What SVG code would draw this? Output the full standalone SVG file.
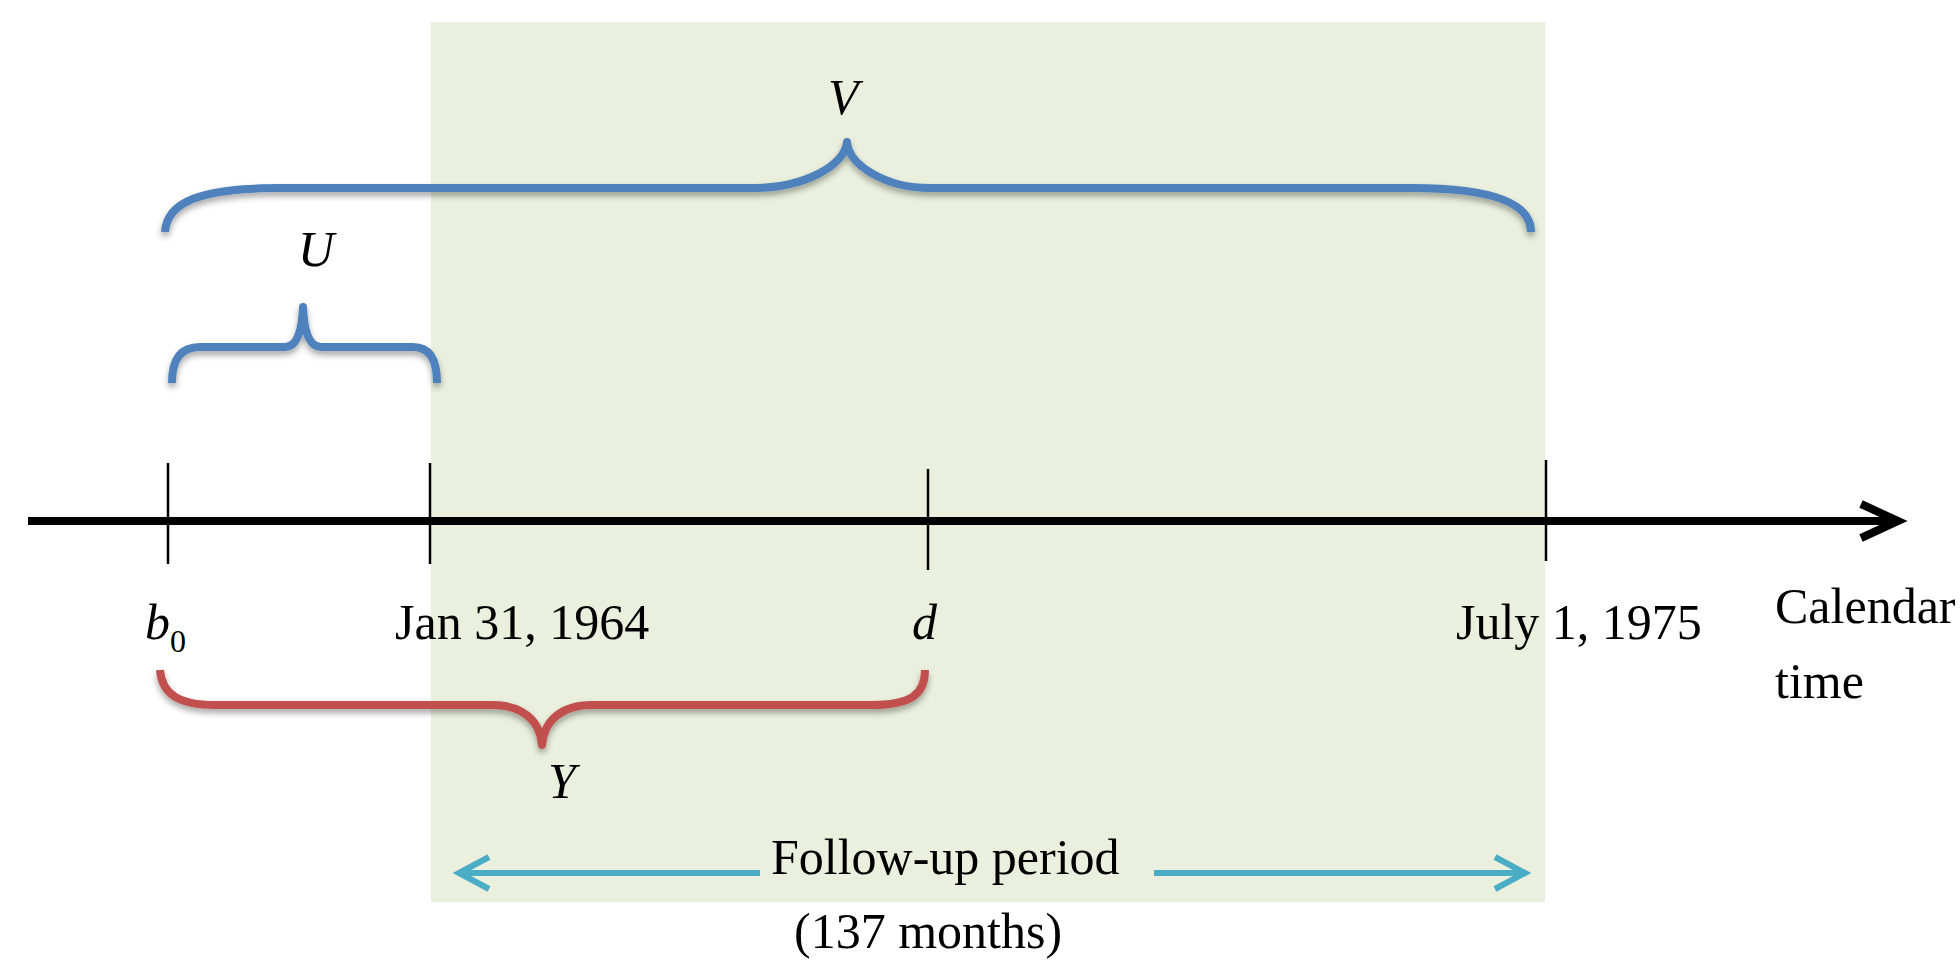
<svg xmlns="http://www.w3.org/2000/svg" width="1960" height="965" viewBox="0 0 1960 965">
  <defs>
    <style>
      .t { font-family: "Liberation Serif", "Times New Roman", serif; font-size: 50px; fill: #000; }
      .it { font-style: italic; }
      .sub { font-size: 32px; }
      .tick { stroke: #000; stroke-width: 2.5; fill: none; }
      .axis { stroke: #000; stroke-width: 8; fill: none; }
      .brace { fill: none; stroke-width: 8; stroke-linecap: butt; stroke-linejoin: round; filter: url(#sh); }
      .blue { stroke: #4F81BD; }
      .red { stroke: #C0504D; }
      .cyan { stroke: #4BACC6; stroke-width: 6; fill: none; }
    </style>
    <filter id="sh" filterUnits="userSpaceOnUse" x="0" y="0" width="1960" height="965">
      <feDropShadow dx="0" dy="4" stdDeviation="3" flood-color="#000" flood-opacity="0.35"/>
    </filter>
  </defs>

  <rect width="1960" height="965" fill="#ffffff"/>
  <rect id="followup-region" x="431" y="22" width="1114" height="880" fill="#EBF0DE"/>

  <g id="axis">
    <line class="axis" x1="28" y1="521" x2="1894" y2="521"/>
    <polyline class="axis" stroke-width="9" points="1861,504 1898,521 1861,538"/>
    <text class="t" x="1775" y="623">Calendar</text>
    <text class="t" x="1775" y="698">time</text>
  </g>

  <g id="tick-b0">
    <line class="tick" x1="168" y1="463" x2="168" y2="564"/>
    <text class="t it" x="145" y="639">b</text>
    <text class="t sub" x="170" y="652">0</text>
  </g>
  <g id="tick-jan1964">
    <line class="tick" x1="430" y1="463" x2="430" y2="564"/>
    <text class="t" x="395" y="639">Jan 31, 1964</text>
  </g>
  <g id="tick-d">
    <line class="tick" x1="928" y1="469" x2="928" y2="570"/>
    <text class="t it" x="912" y="639">d</text>
  </g>
  <g id="tick-july1975">
    <line class="tick" x1="1546" y1="460" x2="1546" y2="561"/>
    <text class="t" x="1456" y="639">July 1, 1975</text>
  </g>

  <g id="label-V"><text class="t it" x="828" y="114">V</text></g>
  <g id="label-U"><text class="t it" x="298" y="266">U</text></g>
  <g id="label-Y"><text class="t it" x="548" y="798">Y</text></g>
  <g id="label-followup">
    <text class="t" x="771" y="874">Follow-up period</text>
    <text class="t" x="794" y="948">(137 months)</text>
  </g>

  <g id="connectors">
    <path class="brace blue" d="M165,232 C167,202 200,188 280,188 L753,188 C805,188 845,165 847,142 C849,165 885,188 930,188 L1412,188 C1490,188 1531,202 1531,232"/>
    <path class="brace blue" d="M172,383 C172,360 180,347 200,347 L285,347 C297,347 302,330 303,307 C304,330 309,347 321,347 L413,347 C430,347 437,360 437,383"/>
    <path class="brace red" d="M160,670 C162,695 180,705 215,705 L492,705 C522,705 540,720 542,745 C544,720 562,705 592,705 L872,705 C910,705 925,695 925,670"/>
    <line class="cyan" x1="460" y1="873" x2="760" y2="873"/>
    <polyline class="cyan" points="489,857 459,873 489,889"/>
    <line class="cyan" x1="1154" y1="873" x2="1524" y2="873"/>
    <polyline class="cyan" points="1495,857 1525,873 1495,889"/>
  </g>
</svg>
